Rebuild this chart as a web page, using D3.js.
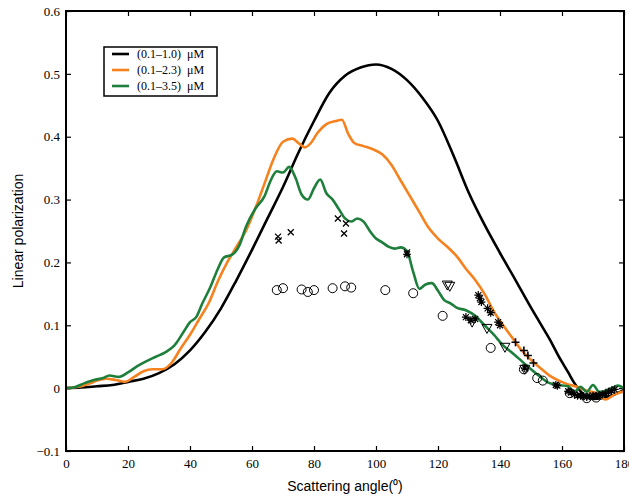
<!DOCTYPE html>
<html>
<head>
<meta charset="utf-8">
<script src="https://cdn.jsdelivr.net/npm/d3@7"></script>
<style>
  body { margin: 0; background: #fff; }
  .tick text { font-family: "Liberation Serif", "DejaVu Serif", serif; font-size: 13px; fill: #000; }
</style>
</head>
<body>
<svg id="chart" width="629" height="498"></svg>
<script>
/* curves: [angle, polarization] */
const curve_10 = [[0,0],[5,0.001],[10,0.003],[15,0.005],[20,0.01],[25,0.015],[30,0.024],[35,0.038],[40,0.06],[45,0.09],[50,0.127],[55,0.172],[60,0.22],[65,0.27],[70,0.32],[75,0.375],[80,0.425],[85,0.47],[90,0.497],[95,0.51],[100,0.515],[105,0.508],[110,0.49],[115,0.462],[120,0.425],[125,0.37],[130,0.31],[135,0.26],[140,0.215],[145,0.172],[150,0.128],[153,0.103],[156,0.078],[159,0.05],[162,0.025],[164,0.008],[166,-0.005],[168,-0.014],[170,-0.017],[173,-0.016],[176,-0.012],[180,-0.003]]

const curve_23 = [[0,0],[5,0.003],[8,0.008],[10,0.012],[13,0.015],[16,0.013],[19,0.01],[22,0.018],[25,0.027],[28,0.03],[31,0.03],[34,0.04],[37,0.063],[40,0.085],[43,0.11],[46,0.135],[49,0.17],[52,0.2],[55,0.225],[58,0.25],[61,0.285],[64,0.325],[67,0.365],[70,0.392],[73,0.397],[75,0.39],[77,0.383],[79,0.39],[81,0.405],[84,0.42],[87,0.425],[89,0.427],[91,0.405],[93,0.39],[96,0.385],[99,0.38],[102,0.372],[105,0.355],[108,0.33],[111,0.305],[114,0.28],[117,0.255],[120,0.238],[123,0.225],[126,0.21],[129,0.19],[132,0.172],[135,0.15],[138,0.122],[141,0.1],[144,0.08],[147,0.06],[150,0.045],[153,0.032],[156,0.02],[159,0.012],[162,0.006],[165,0.002],[168,-0.004],[171,-0.008],[174,-0.018],[177,-0.01],[180,-0.005]]

const curve_35 = [[0,0],[3,0.002],[6,0.008],[9,0.013],[12,0.016],[14,0.02],[17,0.018],[20,0.025],[23,0.035],[26,0.043],[29,0.05],[32,0.057],[35,0.068],[38,0.09],[40,0.105],[42,0.113],[44,0.135],[46.5,0.16],[49,0.19],[51,0.208],[53.5,0.212],[56,0.228],[58,0.256],[61,0.285],[64,0.305],[66,0.33],[68,0.345],[70,0.343],[72,0.352],[74,0.335],[76,0.308],[78,0.3],[80,0.318],[82,0.332],[84,0.31],[86,0.3],[88,0.285],[90,0.27],[92,0.265],[94,0.27],[96,0.265],[98,0.25],[100,0.238],[102,0.232],[104,0.225],[106,0.222],[108,0.224],[110,0.218],[112,0.185],[114,0.158],[116,0.165],[118,0.167],[120,0.155],[122,0.14],[124,0.135],[126,0.128],[129,0.124],[132,0.115],[135,0.1],[138,0.085],[141,0.068],[144,0.056],[147,0.043],[150,0.03],[153,0.018],[156,0.008],[159,0.005],[162,0.003],[164,-0.006],[166,0.002],[168,-0.006],[170,0.005],[172,-0.006],[174,-0.004],[176,0],[178,0.004],[180,0]]

const series_names = ['(0.1\u20131.0)  \u03bcM', '(0.1\u20132.3)  \u03bcM', '(0.1\u20133.5)  \u03bcM']
const series_colors = ['#000000', '#f5821f', '#1e7f3c']

/* measured points */
const pts_cross = [[68.4,0.241],[68.6,0.235],[72.5,0.248],[87.7,0.27],[90.3,0.262],[89.7,0.246],[110,0.216]]
const pts_circle = [[68,0.156],[70,0.159],[76,0.157],[78,0.153],[80,0.156],[86,0.159],[90,0.162],[92,0.16],[103,0.156],[112,0.151],[121.5,0.115],[137,0.064],[147.7,0.03],[152,0.016],[153.8,0.012],[162.5,-0.008],[168,-0.016],[171,-0.015]]
const pts_tri = [[123,0.164],[123.8,0.162],[131,0.105],[135.8,0.095],[141.6,0.065],[148,0.03]]
const pts_star = [[110,0.213],[129,0.113],[130.6,0.108],[132,0.11],[133,0.148],[133.5,0.143],[134,0.137],[136,0.127],[137,0.12],[139.4,0.105],[140,0.1],[148,0.032],[158,0.005],[158.5,0.004],[162,-0.005],[163,-0.007],[164,-0.01],[165,-0.012],[166,-0.012],[167,-0.013],[168,-0.014],[169,-0.013],[170,-0.012],[171,-0.012],[172,-0.011],[173,-0.01],[174,-0.009],[175,-0.006],[176,-0.004],[177,-0.002]]
const pts_plus = [[145,0.073],[147.7,0.06],[149,0.052],[150.8,0.04]]

const x_ticks = [0,20,40,60,80,100,120,140,160,180]
const y_ticks = [-0.1,0,0.1,0.2,0.3,0.4,0.5,0.6]

const svg = d3.select('#chart')
const pad_left = 66, pad_right = 624, pad_top = 11, pad_bottom = 451

const x = d3.scaleLinear().domain([0,180]).range([pad_left, pad_right])
const y = d3.scaleLinear().domain([-0.1,0.6]).range([pad_bottom, pad_top])

svg.append('defs').append('clipPath').attr('id','clip')
    .append('rect').attr('x', pad_left).attr('y', pad_top).attr('width', pad_right-pad_left).attr('height', pad_bottom-pad_top)

/* axes, ticks inward on all four sides */
const fmt = d => d===0 ? '0' : d3.format('.1f')(d)
svg.append('g').attr('transform', `translate(${pad_left},0)`)
    .call(d3.axisLeft(y).tickValues(y_ticks).tickFormat(fmt).tickSizeInner(-5).tickSizeOuter(0).tickPadding(6))
svg.append('g').attr('transform', `translate(${pad_right},0)`)
    .call(d3.axisRight(y).tickValues(y_ticks).tickFormat('').tickSizeInner(-5).tickSizeOuter(0))
svg.append('g').attr('transform', `translate(0,${pad_bottom})`)
    .call(d3.axisBottom(x).tickValues(x_ticks).tickFormat(d3.format('d')).tickSizeInner(-5).tickSizeOuter(0).tickPadding(8))
svg.append('g').attr('transform', `translate(0,${pad_top})`)
    .call(d3.axisTop(x).tickValues(x_ticks).tickFormat('').tickSizeInner(-5).tickSizeOuter(0))
svg.selectAll('.domain').remove()
svg.selectAll('.tick line').attr('stroke', '#000').attr('stroke-width', 1.2)

/* curves */
const line = d3.line().x(d=>x(d[0])).y(d=>y(d[1])).curve(d3.curveMonotoneX)
const plot = svg.append('g').attr('clip-path', 'url(#clip)')
;[curve_10, curve_23, curve_35].forEach((c,i)=>{
    plot.append('path')
        .datum(c)
        .attr('d', line)
        .attr('fill', 'none')
        .attr('stroke', series_colors[i])
        .attr('stroke-width', 2.6)
        .attr('stroke-linejoin', 'round')
})

/* markers */
const mk = plot.append('g').attr('fill', 'none').attr('stroke', '#000').attr('stroke-width', 1)
mk.selectAll('.m_circle').data(pts_circle).join('circle')
    .attr('cx', d=>x(d[0])).attr('cy', d=>y(d[1])).attr('r', 4.5)
mk.selectAll('.m_cross').data(pts_cross).join('path')
    .attr('transform', d=>`translate(${x(d[0])},${y(d[1])})`)
    .attr('d', 'M-3,-3L3,3M-3,3L3,-3').attr('stroke-width', 1.3)
mk.selectAll('.m_plus').data(pts_plus).join('path')
    .attr('transform', d=>`translate(${x(d[0])},${y(d[1])})`)
    .attr('d', 'M-4,0L4,0M0,-4L0,4').attr('stroke-width', 1.6)
mk.selectAll('.m_star').data(pts_star).join('path')
    .attr('transform', d=>`translate(${x(d[0])},${y(d[1])})`)
    .attr('d', 'M-4,0L4,0M0,-4L0,4M-3,-3L3,3M-3,3L3,-3').attr('stroke-width', 1.2)
mk.selectAll('.m_tri').data(pts_tri).join('path')
    .attr('transform', d=>`translate(${x(d[0])},${y(d[1])})`)
    .attr('d', 'M-5,-4L5,-4L0,5Z')

/* frame */
svg.append('rect').attr('x', pad_left).attr('y', pad_top).attr('width', pad_right-pad_left).attr('height', pad_bottom-pad_top)
    .attr('fill', 'none').attr('stroke', '#000').attr('stroke-width', 2)

/* axis labels */
svg.append('text').attr('x', (pad_left+pad_right)/2).attr('y', 491)
    .attr('text-anchor', 'middle').style('font-family', '"Liberation Sans", Arial, sans-serif').style('font-size', '14px')
    .text('Scattering angle(\u2070)')
svg.append('text').attr('transform', `translate(23,${(pad_top+pad_bottom)/2}) rotate(-90)`)
    .attr('text-anchor', 'middle').style('font-family', '"Liberation Sans", Arial, sans-serif').style('font-size', '14px')
    .text('Linear polarization')

/* legend */
const lg = svg.append('g').attr('transform', 'translate(104,47)')
lg.append('rect').attr('width', 113).attr('height', 49).attr('fill', '#fff').attr('stroke', '#000').attr('stroke-width', 1.5)
lg.selectAll('line').data(series_colors).join('line')
    .attr('x1', 8).attr('x2', 25).attr('y1', (d,i)=>7+i*16).attr('y2', (d,i)=>7+i*16)
    .attr('stroke', d=>d).attr('stroke-width', 2.6)
lg.selectAll('text').data(series_names).join('text')
    .attr('x', 33).attr('y', (d,i)=>11+i*16)
    .style('font-family', '"Liberation Serif", serif').style('font-size', '12px')
    .style('white-space', 'pre')
    .text(d=>d)
</script>
</body>
</html>
